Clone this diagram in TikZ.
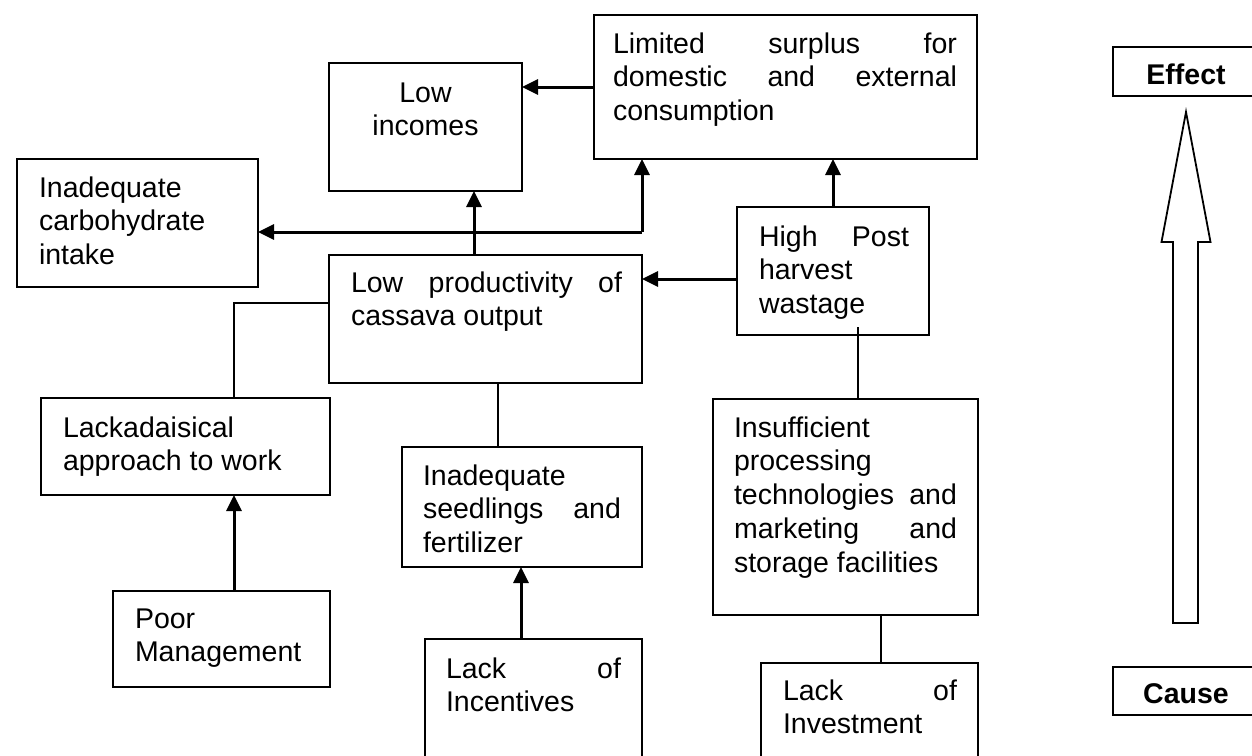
\documentclass[tikz,border=0pt]{standalone}
\usepackage{fontspec}
\setmainfont{Liberation Sans}
\usetikzlibrary{arrows.meta}
\newcommand{\bxfont}{\fontsize{28.5}{33.8}\selectfont}
\begin{document}
\begin{tikzpicture}[x=1pt,y=-1pt,
  box/.style={draw, line width=1.8pt, anchor=north west, inner sep=0pt, outer sep=0pt},
  txt/.style={anchor=base west, inner sep=0pt, outer sep=0pt, font=\bxfont},
  arr/.style={line width=3pt, -{Triangle[length=16pt,width=15pt]}},
  link/.style={line width=1.8pt},
  label/.style={anchor=base, inner sep=0pt, font=\bxfont\bfseries},
]
\useasboundingbox (0,0) rectangle (1252,755);
\fill[white] (0,0) rectangle (1252,755);

% boxes
\node[box, minimum width=383pt, minimum height=144pt] (lim) at (594,15) {};
\node[box, minimum width=193pt, minimum height=128pt] (inc) at (329,63) {};
\node[box, minimum width=241pt, minimum height=128pt] (carb) at (17,159) {};
\node[box, minimum width=313pt, minimum height=128pt] (prod) at (329,255) {};
\node[box, minimum width=192pt, minimum height=128pt] (post) at (737,207) {};
\node[box, minimum width=289pt, minimum height=97pt] (lack) at (41,398) {};
\node[box, minimum width=240pt, minimum height=120pt] (seed) at (402,447) {};
\node[box, minimum width=265pt, minimum height=216pt] (insuf) at (713,399) {};
\node[box, minimum width=217pt, minimum height=96pt] (poor) at (113,591) {};
\node[box, minimum width=217pt, minimum height=130pt] (incent) at (425,639) {};
\node[box, minimum width=217pt, minimum height=110pt] (invest) at (761,663) {};
\node[box, minimum width=146pt, minimum height=49pt] (eff) at (1113,47) {};
\node[box, minimum width=146pt, minimum height=48pt] (cau) at (1113,667) {};

% texts
\node[txt] (limT) at (613,53) {\parbox[t]{344pt}{Limited\hfill surplus\hfill for\\domestic\hfill and\hfill external\\consumption}};
\node[txt] (incT) at (329,102) {\parbox[t]{193pt}{\centering Low\\incomes}};
\node[txt] (carbT) at (39,197) {\parbox[t]{210pt}{Inadequate\\carbohydrate\\intake}};
\node[txt] (prodT) at (351,292) {\parbox[t]{271pt}{Low\hfill productivity\hfill of\\cassava output}};
\node[txt] (postT) at (759,246) {\parbox[t]{150pt}{High\hfill Post\\harvest\\wastage}};
\node[txt] (lackT) at (63,437) {\parbox[t]{250pt}{Lackadaisical\\approach to work}};
\node[txt] (seedT) at (423,485) {\parbox[t]{198pt}{Inadequate\\seedlings\hfill and\\fertilizer}};
\node[txt] (insufT) at (734,437) {\parbox[t]{223pt}{Insufficient\\processing\\technologies\hfill and\\marketing\hfill and\\storage facilities}};
\node[txt] (poorT) at (135,628) {\parbox[t]{180pt}{Poor\\Management}};
\node[txt] (incentT) at (446,678) {\parbox[t]{175pt}{Lack\hfill of\\Incentives}};
\node[txt] (investT) at (783,700) {\parbox[t]{174pt}{Lack\hfill of\\Investment}};
\node[label] (effT) at (1186,84) {Effect};
\node[label] (cauT) at (1186,703) {Cause};

% connectors
\draw[arr] (lim.west) -- (lim.west -| inc.east);
\draw[arr] ([xshift=-11.5pt]prod.north) -- ([xshift=-11.5pt]prod.north |- inc.south);
\coordinate (j) at (642,232);
\draw[arr] (j) -- (j -| carb.east);
\draw[arr] (j) -- (j |- lim.south);
\draw[arr] (post.north) -- (post.north |- lim.south);
\draw[arr] ([yshift=-8pt]post.west) -- ([yshift=-8pt]post.west -| prod.east);
\draw[link] ([xshift=25pt,yshift=8pt]post.south) -- ([xshift=25pt]post.south |- insuf.north);
\draw[link] ([xshift=35.5pt]insuf.south) -- ([xshift=35.5pt]insuf.south |- invest.north);
\draw[link] ([xshift=48.5pt]lack.north) |- ([yshift=16pt]prod.west);
\draw[arr] ([xshift=12.5pt]poor.north) -- ([xshift=12.5pt]poor.north |- lack.south);
\draw[link] ([xshift=12.5pt]prod.south) -- ([xshift=12.5pt]prod.south |- seed.north);
\draw[arr] ([xshift=-12.5pt]incent.north) -- ([xshift=-12.5pt]incent.north |- seed.south);

% cause-effect hollow arrow
\draw[line width=1.8pt, line join=miter] (1186,112) -- (1210.5,242) -- (1198,242) -- (1198,623)
  -- (1173,623) -- (1173,242) -- (1161.5,242) -- cycle;
\end{tikzpicture}
\end{document}
